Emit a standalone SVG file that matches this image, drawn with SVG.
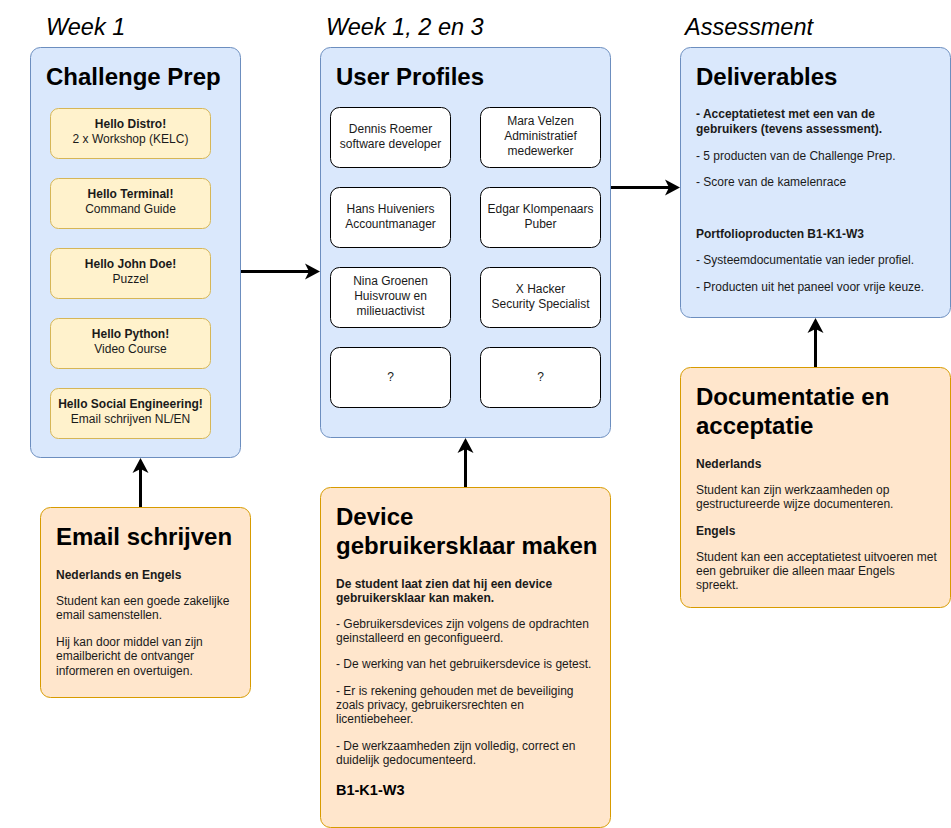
<svg xmlns="http://www.w3.org/2000/svg" width="951" height="828" viewBox="0 0 951 828">
<defs>
<style>
text{font-family:"Liberation Sans",Arial,Helvetica,sans-serif;fill:#000}
.week{font-size:23.5px;font-style:italic}
.title{font-size:24px;font-weight:bold}
.s{font-size:12px;fill:#1a1a1a}
.sb{font-size:12px;font-weight:bold;fill:#1a1a1a}
.c{font-size:12px;text-anchor:middle;fill:#1a1a1a}
.cb{font-size:12px;text-anchor:middle;font-weight:bold;fill:#1a1a1a}
.blue{fill:#dae8fc;stroke:#6c8ebf;stroke-width:1}
.orange{fill:#ffe6cc;stroke:#d79b00;stroke-width:1}
.yellow{fill:#fff2cc;stroke:#d6b656;stroke-width:1}
.white{fill:#ffffff;stroke:#000000;stroke-width:1}
.edge{stroke:#000;stroke-width:3;fill:none;marker-end:url(#arrow)}
</style>
<marker id="arrow" markerUnits="userSpaceOnUse" markerWidth="16" markerHeight="18" refX="11" refY="9" orient="auto">
<path d="M0,1 L15,9 L0,17 L4,9 Z" fill="#000"/>
</marker>
</defs>
<rect width="951" height="828" fill="#ffffff"/>

<g id="labels">
<text class="week" x="46" y="35">Week 1</text>
<text class="week" x="326" y="35">Week 1, 2 en 3</text>
<text class="week" x="685" y="35">Assessment</text>
</g>

<g id="challenge-prep">
<rect class="blue" x="30.5" y="47.5" width="210" height="410" rx="10"/>
<text class="title" x="46" y="85">Challenge Prep</text>
</g>
<g id="hello-distro">
<rect class="yellow" x="50.5" y="108.5" width="160" height="50" rx="8"/>
<text class="cb" x="130.5" y="128">Hello Distro!</text>
<text class="c" x="130.5" y="143">2 x Workshop (KELC)</text>
</g>
<g id="hello-terminal">
<rect class="yellow" x="50.5" y="178.5" width="160" height="50" rx="8"/>
<text class="cb" x="130.5" y="198">Hello Terminal!</text>
<text class="c" x="130.5" y="213">Command Guide</text>
</g>
<g id="hello-john-doe">
<rect class="yellow" x="50.5" y="248.5" width="160" height="50" rx="8"/>
<text class="cb" x="130.5" y="268">Hello John Doe!</text>
<text class="c" x="130.5" y="283">Puzzel</text>
</g>
<g id="hello-python">
<rect class="yellow" x="50.5" y="318.5" width="160" height="50" rx="8"/>
<text class="cb" x="130.5" y="338">Hello Python!</text>
<text class="c" x="130.5" y="353">Video Course</text>
</g>
<g id="hello-social">
<rect class="yellow" x="50.5" y="388.5" width="160" height="50" rx="8"/>
<text class="cb" x="130.5" y="408">Hello Social Engineering!</text>
<text class="c" x="130.5" y="423">Email schrijven NL/EN</text>
</g>

<g id="user-profiles">
<rect class="blue" x="320.5" y="47.5" width="290" height="390" rx="10"/>
<text class="title" x="336" y="85">User Profiles</text>
</g>
<g id="dennis">
<rect class="white" x="330.5" y="107.5" width="120" height="60" rx="9"/>
<text class="c" x="390.5" y="133">Dennis Roemer</text>
<text class="c" x="390.5" y="148">software developer</text>
</g>
<g id="mara">
<rect class="white" x="480.5" y="107.5" width="120" height="60" rx="9"/>
<text class="c" x="540.5" y="125">Mara Velzen</text>
<text class="c" x="540.5" y="140">Administratief</text>
<text class="c" x="540.5" y="155">medewerker</text>
</g>
<g id="hans">
<rect class="white" x="330.5" y="187.5" width="120" height="60" rx="9"/>
<text class="c" x="390.5" y="213">Hans Huiveniers</text>
<text class="c" x="390.5" y="228">Accountmanager</text>
</g>
<g id="edgar">
<rect class="white" x="480.5" y="187.5" width="120" height="60" rx="9"/>
<text class="c" x="540.5" y="213">Edgar Klompenaars</text>
<text class="c" x="540.5" y="228">Puber</text>
</g>
<g id="nina">
<rect class="white" x="330.5" y="267.5" width="120" height="60" rx="9"/>
<text class="c" x="390.5" y="285">Nina Groenen</text>
<text class="c" x="390.5" y="300">Huisvrouw en</text>
<text class="c" x="390.5" y="315">milieuactivist</text>
</g>
<g id="xhacker">
<rect class="white" x="480.5" y="267.5" width="120" height="60" rx="9"/>
<text class="c" x="540.5" y="293">X Hacker</text>
<text class="c" x="540.5" y="308">Security Specialist</text>
</g>
<g id="unknown-1">
<rect class="white" x="330.5" y="347.5" width="120" height="60" rx="9"/>
<text class="c" x="390.5" y="381">?</text>
</g>
<g id="unknown-2">
<rect class="white" x="480.5" y="347.5" width="120" height="60" rx="9"/>
<text class="c" x="540.5" y="381">?</text>
</g>

<g id="deliverables">
<rect class="blue" x="680.5" y="47.5" width="270" height="270" rx="10"/>
<text class="title" x="696" y="85">Deliverables</text>
<text class="sb" x="696" y="118">- Acceptatietest met een van de</text>
<text class="sb" x="696" y="133">gebruikers (tevens assessment).</text>
<text class="s" x="696" y="160">- 5 producten van de Challenge Prep.</text>
<text class="s" x="696" y="186">- Score van de kamelenrace</text>
<text class="sb" x="696" y="238">Portfolioproducten B1-K1-W3</text>
<text class="s" x="696" y="264">- Systeemdocumentatie van ieder profiel.</text>
<text class="s" x="696" y="291">- Producten uit het paneel voor vrije keuze.</text>
</g>

<g id="documentatie">
<rect class="orange" x="680.5" y="367.5" width="270" height="240" rx="10"/>
<text class="title" x="696" y="405">Documentatie en</text>
<text class="title" x="696" y="434">acceptatie</text>
<text class="sb" x="696" y="468">Nederlands</text>
<text class="s" x="696" y="494">Student kan zijn werkzaamheden op</text>
<text class="s" x="696" y="508">gestructureerde wijze documenteren.</text>
<text class="sb" x="696" y="535">Engels</text>
<text class="s" x="696" y="561">Student kan een acceptatietest uitvoeren met</text>
<text class="s" x="696" y="575">een gebruiker die alleen maar Engels</text>
<text class="s" x="696" y="589">spreekt.</text>
</g>

<g id="email-schrijven">
<rect class="orange" x="40.5" y="507.5" width="210" height="190" rx="10"/>
<text class="title" x="56" y="545">Email schrijven</text>
<text class="sb" x="56" y="579">Nederlands en Engels</text>
<text class="s" x="56" y="605">Student kan een goede zakelijke</text>
<text class="s" x="56" y="619">email samenstellen.</text>
<text class="s" x="56" y="646">Hij kan door middel van zijn</text>
<text class="s" x="56" y="660">emailbericht de ontvanger</text>
<text class="s" x="56" y="675">informeren en overtuigen.</text>
</g>

<g id="device">
<rect class="orange" x="320.5" y="487.5" width="290" height="340" rx="10"/>
<text class="title" x="336" y="525">Device</text>
<text class="title" x="336" y="554">gebruikersklaar maken</text>
<text class="sb" x="336" y="588">De student laat zien dat hij een device</text>
<text class="sb" x="336" y="602">gebruikersklaar kan maken.</text>
<text class="s" x="336" y="628">- Gebruikersdevices zijn volgens de opdrachten</text>
<text class="s" x="336" y="642">geinstalleerd en geconfigueerd.</text>
<text class="s" x="336" y="668">- De werking van het gebruikersdevice is getest.</text>
<text class="s" x="336" y="695">- Er is rekening gehouden met de beveiliging</text>
<text class="s" x="336" y="709">zoals privacy, gebruikersrechten en</text>
<text class="s" x="336" y="723">licentiebeheer.</text>
<text class="s" x="336" y="750">- De werkzaamheden zijn volledig, correct en</text>
<text class="s" x="336" y="764">duidelijk gedocumenteerd.</text>
<text x="336" y="795" style="font-size:14.5px;font-weight:bold">B1-K1-W3</text>
</g>

<g id="connectors">
<line class="edge" x1="241" y1="271.5" x2="316" y2="271.5"/>
<line class="edge" x1="611" y1="187.5" x2="676" y2="187.5"/>
<line class="edge" x1="140.5" y1="507" x2="140.5" y2="462"/>
<line class="edge" x1="465.5" y1="487" x2="465.5" y2="442"/>
<line class="edge" x1="815.5" y1="367" x2="815.5" y2="322"/>
</g>
</svg>
